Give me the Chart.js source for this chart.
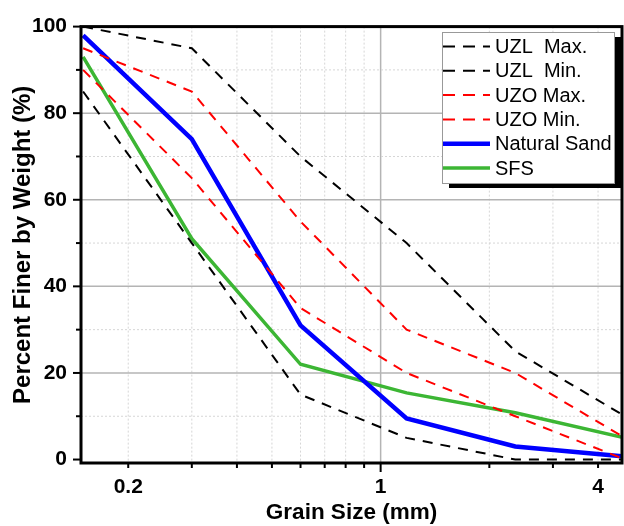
<!DOCTYPE html>
<html>
<head>
<meta charset="utf-8">
<script src="https://cdn.jsdelivr.net/npm/chart.js@4/dist/chart.umd.min.js"></script>
<style>
  html, body { margin: 0; padding: 0; background: #fff; }
  canvas { display: block; }
</style>
</head>
<body>
<canvas id="gradingChart" width="624" height="526"></canvas>
<script>
// sieve sizes (mm) and percent finer for each curve
const sieveSizes = [0.15, 0.3, 0.6, 1.18, 2.36, 4.75];
const uzlMax = [100, 95, 70, 50, 25, 10];
const uzlMin = [85, 50, 15, 5, 0, 0];
const uzoMax = [95, 85, 55, 30, 20, 5];
const uzoMin = [90, 65, 35, 20, 10, 0];
const naturalSand = [98, 74, 31, 9.5, 3, 0.7];
const sfs = [93, 51, 22, 15.4, 10.8, 5];

// axis ticks
const xTicks = [0.2, 0.3, 0.4, 0.5, 0.6, 0.7, 0.8, 0.9, 1, 2, 3, 4];
const xLabels = [0.2, 1, 4];
const yTicks = [0, 10, 20, 30, 40, 50, 60, 70, 80, 90, 100];
const yLabels = [0, 20, 40, 60, 80, 100];

const FONT = "Arial, 'Liberation Sans', sans-serif";

function points(values) {
    return sieveSizes.map((s, i) => ({ x: s, y: values[i] }));
}

function dashed(label, values, color) {
    return {
        label, data: points(values), borderColor: color, borderWidth: 2,
        borderDash: [10, 8], pointRadius: 0, fill: false, tension: 0
    };
}

function solid(label, values, color, width) {
    return {
        label, data: points(values), borderColor: color, borderWidth: width,
        pointRadius: 0, fill: false, tension: 0
    };
}

// grid lines under the data, ticks / frame / legend on top
const gridPlugin = {
    id: 'gridPlugin',
    beforeDatasetsDraw(chart) {
        const { ctx, chartArea: a, scales: { x, y } } = chart;
        ctx.save();
        xTicks.forEach(v => {
            const px = x.getPixelForValue(v);
            const major = v === 1;
            ctx.strokeStyle = major ? '#b4b4b4' : '#d6d6d6';
            ctx.lineWidth = major ? 1.5 : 1;
            ctx.setLineDash(major ? [] : [2, 2]);
            ctx.beginPath();
            ctx.moveTo(px, a.top);
            ctx.lineTo(px, a.bottom);
            ctx.stroke();
        });
        yTicks.forEach(v => {
            if (v === 0 || v === 100) return;
            const py = y.getPixelForValue(v);
            const major = v % 20 === 0;
            ctx.strokeStyle = major ? '#b4b4b4' : '#d6d6d6';
            ctx.lineWidth = major ? 1.5 : 1;
            ctx.setLineDash(major ? [] : [2, 2]);
            ctx.beginPath();
            ctx.moveTo(a.left, py);
            ctx.lineTo(a.right, py);
            ctx.stroke();
        });
        ctx.restore();
    },
    afterDraw(chart) {
        const { ctx, chartArea: a, scales: { x, y } } = chart;
        ctx.save();
        ctx.strokeStyle = '#000';
        ctx.lineWidth = 2;
        ctx.setLineDash([]);
        yTicks.forEach(v => {
            const py = y.getPixelForValue(v);
            const len = v % 20 === 0 ? 8 : 5;
            ctx.beginPath();
            ctx.moveTo(a.left, py);
            ctx.lineTo(a.left - len, py);
            ctx.stroke();
        });
        xTicks.forEach(v => {
            const px = x.getPixelForValue(v);
            const len = v === 1 ? 9 : 5;
            ctx.beginPath();
            ctx.moveTo(px, a.bottom);
            ctx.lineTo(px, a.bottom + len);
            ctx.stroke();
        });
        ctx.lineWidth = 3;
        ctx.strokeRect(a.left, a.top, a.right - a.left, a.bottom - a.top);

        // legend box with shadow
        const bx = 442, by = 32, bw = 172, bh = 151;
        ctx.fillStyle = '#000';
        ctx.fillRect(bx + 7, by + 5, bw, bh);
        ctx.fillStyle = '#fff';
        ctx.fillRect(bx, by, bw, bh);
        ctx.strokeStyle = '#999';
        ctx.lineWidth = 1;
        ctx.strokeRect(bx + 0.5, by + 0.5, bw, bh);

        ctx.font = '20px ' + FONT;
        ctx.textBaseline = 'middle';
        ctx.textAlign = 'left';
        chart.data.datasets.forEach((ds, i) => {
            const ly = 46.5 + i * 24.3;
            ctx.strokeStyle = ds.borderColor;
            ctx.lineWidth = ds.borderWidth;
            ctx.setLineDash(ds.borderDash ? [12, 8] : []);
            ctx.beginPath();
            ctx.moveTo(443, ly);
            ctx.lineTo(490, ly);
            ctx.stroke();
            ctx.fillStyle = '#000';
            ctx.fillText(ds.label, 495, ly + 1);
        });
        ctx.restore();
    }
};

document.addEventListener('DOMContentLoaded', () => {
    const ctx = document.getElementById('gradingChart').getContext('2d');

    new Chart(ctx, {
        type: 'line',
        data: {
            datasets: [
                dashed('UZL  Max.', uzlMax, '#000000'),
                dashed('UZL  Min.', uzlMin, '#000000'),
                dashed('UZO Max.', uzoMax, '#ff0000'),
                dashed('UZO Min.', uzoMin, '#ff0000'),
                solid('Natural Sand', naturalSand, '#0000ff', 4.5),
                solid('SFS', sfs, '#3cb634', 3.5)
            ]
        },
        options: {
            responsive: false,
            animation: false,
            devicePixelRatio: 1,
            layout: { padding: { top: 25, right: 2, left: 0, bottom: 0 } },
            plugins: {
                legend: { display: false },
                tooltip: { enabled: false }
            },
            scales: {
                x: {
                    type: 'logarithmic',
                    min: 0.148,
                    max: 4.66,
                    afterBuildTicks: s => { s.ticks = xTicks.map(v => ({ value: v })); },
                    afterFit: s => { s.height = 63; },
                    grid: { display: false, drawTicks: false },
                    border: { display: false },
                    ticks: {
                        autoSkip: false,
                        maxRotation: 0,
                        padding: 12,
                        color: '#000',
                        font: { family: FONT, size: 21, weight: 'bold' },
                        callback: v => xLabels.includes(v) ? String(v) : ''
                    },
                    title: {
                        display: true,
                        text: 'Grain Size (mm)',
                        color: '#000',
                        padding: 0,
                        font: { family: FONT, size: 22.5, weight: 'bold' }
                    }
                },
                y: {
                    min: -0.8,
                    max: 100,
                    afterBuildTicks: s => { s.ticks = yTicks.map(v => ({ value: v })); },
                    afterFit: s => { s.width = 81; },
                    grid: { display: false, drawTicks: false },
                    border: { display: false },
                    ticks: {
                        padding: 14,
                        color: '#000',
                        font: { family: FONT, size: 21, weight: 'bold' },
                        callback: v => yLabels.includes(v) ? String(v) : ''
                    },
                    title: {
                        display: true,
                        text: 'Percent Finer by Weight (%)',
                        color: '#000',
                        padding: { top: 9, bottom: 0 },
                        font: { family: FONT, size: 24, weight: 'bold' }
                    }
                }
            }
        },
        plugins: [gridPlugin]
    });
});
</script>
</body>
</html>
